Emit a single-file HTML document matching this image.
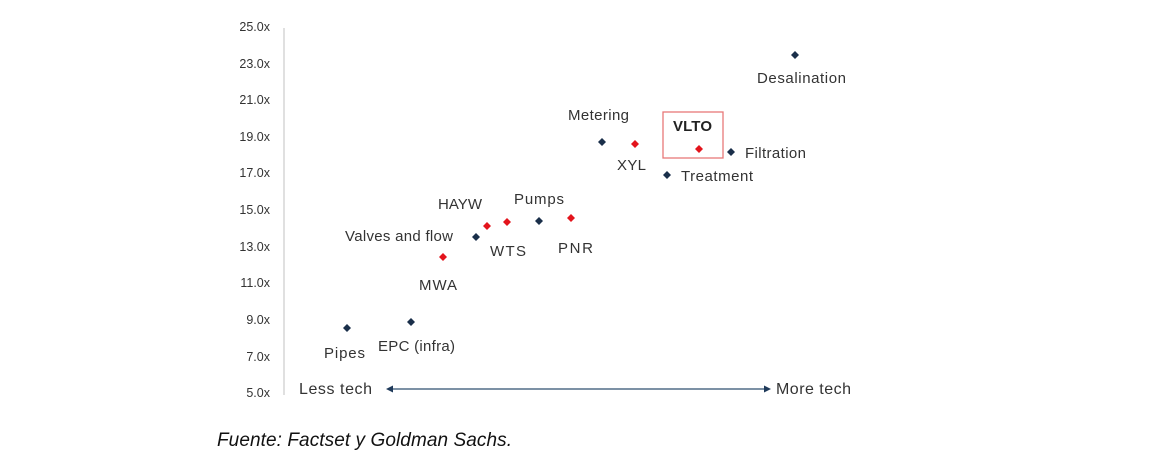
<!DOCTYPE html>
<html><head><meta charset="utf-8"><style>
body{margin:0;background:#fff;}
svg{display:block;font-family:"Liberation Sans",sans-serif;}
</style></head><body>
<svg width="1168" height="460" viewBox="0 0 1168 460">
<g font-size="12.5" fill="#333" text-anchor="end">
<text x="270" y="31">25.0x</text>
<text x="270" y="68">23.0x</text>
<text x="270" y="104">21.0x</text>
<text x="270" y="141">19.0x</text>
<text x="270" y="177">17.0x</text>
<text x="270" y="214">15.0x</text>
<text x="270" y="251">13.0x</text>
<text x="270" y="287">11.0x</text>
<text x="270" y="324">9.0x</text>
<text x="270" y="361">7.0x</text>
<text x="270" y="397">5.0x</text>
</g>
<line x1="284" y1="28" x2="284" y2="395" stroke="#ccc" stroke-width="1.2"/>
<line x1="392" y1="389" x2="765" y2="389" stroke="#2f4f6f" stroke-width="1.2"/>
<polygon points="386,389 393,385.5 393,392.5" fill="#1f3a5a"/>
<polygon points="771,389 764,385.5 764,392.5" fill="#1f3a5a"/>
<g font-size="16" fill="#333">
<text x="299" y="394" textLength="73">Less tech</text>
<text x="776" y="394" textLength="75">More tech</text>
</g>
<rect x="663" y="112" width="60" height="46" fill="none" stroke="#e87878" stroke-width="1.3"/>
<g fill="#1a2f4a">
<path d="M347 324l4 4-4 4-4-4z"/>
<path d="M411 318l4 4-4 4-4-4z"/>
<path d="M476 233l4 4-4 4-4-4z"/>
<path d="M539 217l4 4-4 4-4-4z"/>
<path d="M602 138l4 4-4 4-4-4z"/>
<path d="M667 171l4 4-4 4-4-4z"/>
<path d="M731 148l4 4-4 4-4-4z"/>
<path d="M795 51l4 4-4 4-4-4z"/>
</g>
<g fill="#e3141c">
<path d="M443 253l4 4-4 4-4-4z"/>
<path d="M487 222l4 4-4 4-4-4z"/>
<path d="M507 218l4 4-4 4-4-4z"/>
<path d="M571 214l4 4-4 4-4-4z"/>
<path d="M635 140l4 4-4 4-4-4z"/>
<path d="M699 145l4 4-4 4-4-4z"/>
</g>
<g font-size="15" fill="#333">
<text x="324" y="358" textLength="41">Pipes</text>
<text x="378" y="351" textLength="77">EPC (infra)</text>
<text x="419" y="290" textLength="38">MWA</text>
<text x="345" y="241" textLength="108">Valves and flow</text>
<text x="438" y="209" textLength="44">HAYW</text>
<text x="490" y="256" textLength="36">WTS</text>
<text x="514" y="204" textLength="50">Pumps</text>
<text x="558" y="253" textLength="35">PNR</text>
<text x="568" y="120" textLength="61">Metering</text>
<text x="617" y="170" textLength="29">XYL</text>
<text x="681" y="181" textLength="72">Treatment</text>
<text x="745" y="158" textLength="61">Filtration</text>
<text x="757" y="83" textLength="89">Desalination</text>
<text x="673" y="131" font-weight="bold" fill="#222" textLength="39">VLTO</text>
</g>
<text x="217" y="446" font-size="19" font-style="italic" fill="#111" textLength="295">Fuente: Factset y Goldman Sachs.</text>
</svg>
</body></html>
